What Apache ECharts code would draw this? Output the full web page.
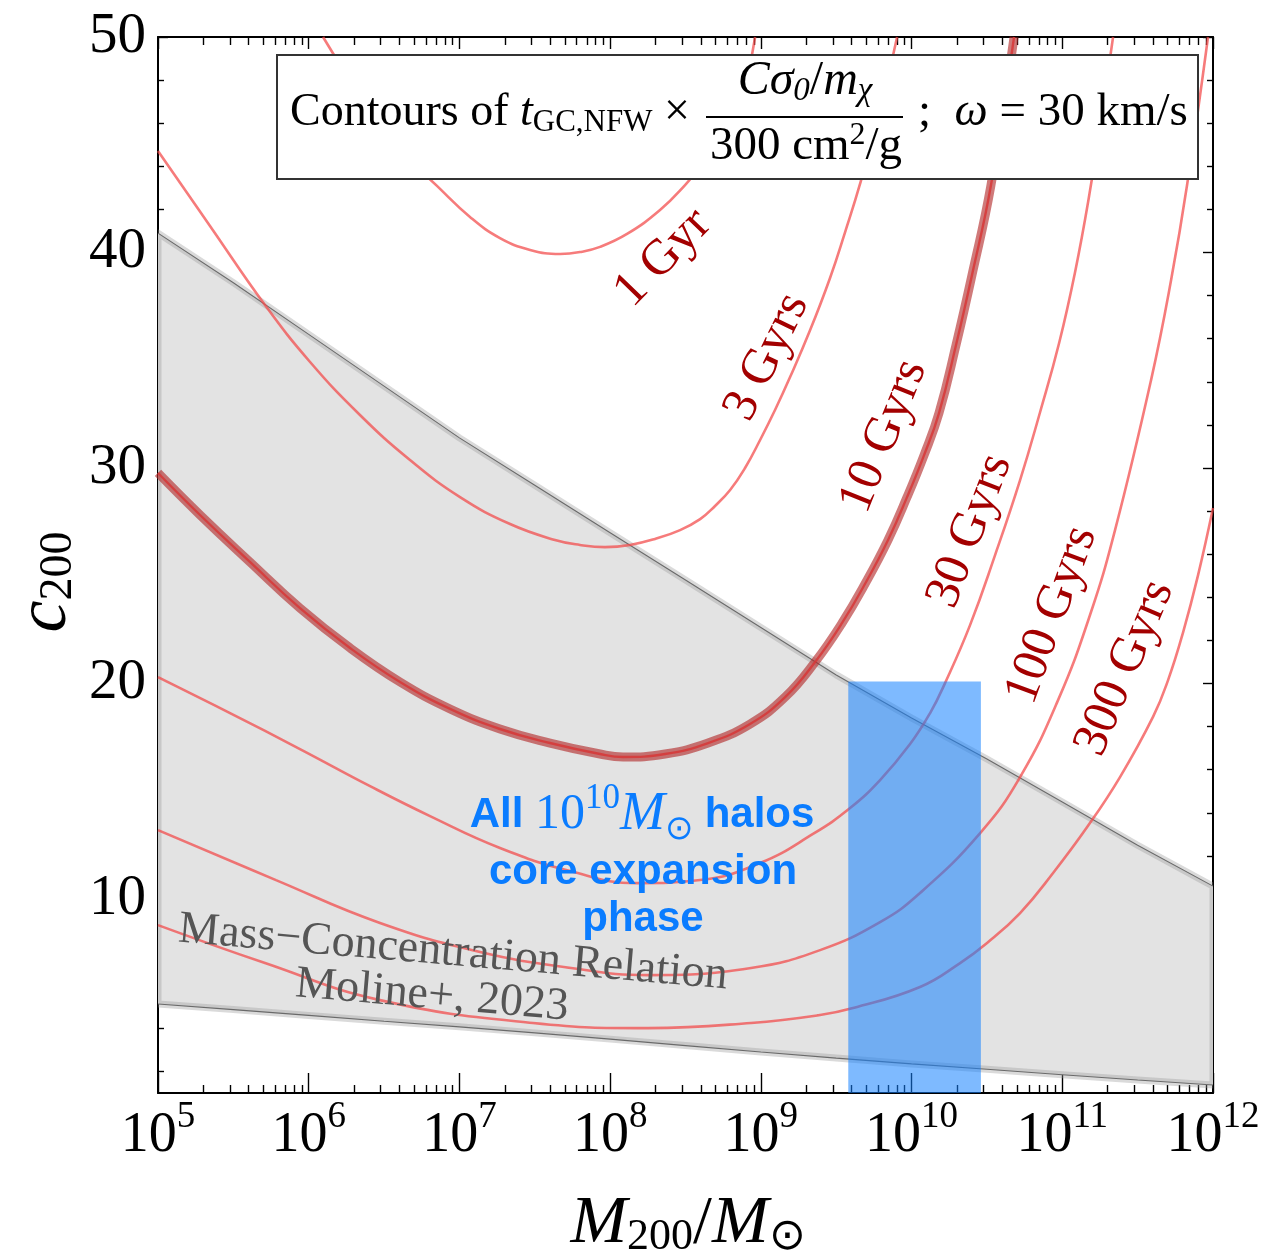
<!DOCTYPE html>
<html>
<head>
<meta charset="utf-8">
<script src="https://cdn.jsdelivr.net/npm/echarts@6/dist/echarts.min.js"></script>
<style>
  html, body { margin: 0; padding: 0; background: #ffffff; }
  #chart { width: 1269px; height: 1258px; }
</style>
</head>
<body>
<div id="chart"></div>
<script>
// Horizontal axis: log10(M200 / Msun); vertical axis: c200.
const massDecades = [5, 6, 7, 8, 9, 10, 11, 12];
const minorMultipliers = [2, 3, 4, 5, 6, 7, 8, 9];
const concTicks = [10, 20, 30, 40, 50];
const concMinorTicks = [2, 4, 6, 8, 12, 14, 16, 18, 22, 24, 26, 28, 32, 34, 36, 38, 42, 44, 46, 48];

// Mass–concentration relation band (Moline+, 2023)
const bandLogM  = [5, 5.5, 6, 6.5, 7, 7.5, 8, 8.5, 9, 9.5, 10, 10.5, 11, 11.5, 12];
const bandUpper = [40.9, 38.6, 36.2, 33.8, 31.4, 29.2, 27.0, 24.8, 22.6, 20.4, 18.4, 16.5, 14.5, 12.5, 10.6];
const bandLower = [5.13, 4.87, 4.60, 4.33, 4.07, 3.79, 3.50, 3.20, 2.90, 2.62, 2.35, 2.10, 1.85, 1.60, 1.37];

// Gravothermal-collapse time contours
const gyr1LogM = [6.095, 6.340, 6.606, 6.851, 7.070, 7.269, 7.469, 7.668, 7.800, 7.933, 8.112, 8.331, 8.497, 8.597, 8.729, 8.862, 8.962];
const gyr1C    = [50.0, 47.31, 44.76, 43.09, 41.65, 40.67, 40.12, 39.93, 40.02, 40.26, 40.86, 41.97, 43.13, 43.97, 45.31, 47.08, 50.0];

const gyr3LogM = [5.000, 5.345, 5.710, 6.009, 6.340, 6.672, 7.004, 7.336, 7.634, 7.800, 7.966, 8.132, 8.298, 8.464, 8.597, 8.696, 8.796, 8.895, 8.995, 9.094, 9.194, 9.327, 9.459, 9.559, 9.658, 9.791, 9.904];
const gyr3C    = [44.71, 41.23, 37.56, 34.92, 32.46, 30.37, 28.65, 27.40, 26.66, 26.43, 26.33, 26.43, 26.71, 27.12, 27.63, 28.24, 28.98, 30.00, 31.30, 32.69, 34.22, 36.40, 38.82, 40.95, 43.18, 46.61, 50.0];

const gyr10LogM = [5.000, 5.279, 5.610, 5.942, 6.274, 6.606, 6.938, 7.269, 7.601, 7.933, 8.086, 8.364, 8.650, 8.928, 9.161, 9.360, 9.539, 9.698, 9.844, 9.970, 10.083, 10.182, 10.295, 10.401, 10.527, 10.680];
const gyr10C    = [29.77, 27.82, 25.64, 23.50, 21.65, 20.07, 18.82, 17.89, 17.24, 16.73, 16.59, 16.73, 17.24, 18.12, 19.37, 21.00, 22.81, 24.71, 26.66, 28.65, 30.60, 32.55, 35.71, 38.96, 43.13, 50.0];

const gyr30LogM = [5.000, 5.478, 5.942, 6.407, 6.805, 7.269, 7.734, 8.178, 8.597, 8.995, 9.346, 9.592, 9.791, 9.990, 10.123, 10.222, 10.388, 10.554, 10.720, 10.853, 10.979, 11.085, 11.178, 11.257, 11.337];
const gyr30C    = [20.30, 18.63, 16.96, 15.24, 13.85, 12.37, 11.30, 10.74, 10.88, 11.67, 13.02, 14.22, 15.52, 17.19, 18.63, 20.02, 22.71, 25.96, 29.44, 32.60, 35.80, 39.10, 42.62, 46.15, 50.0];

const gyr100LogM = [5.000, 5.783, 6.473, 7.137, 7.741, 8.252, 8.935, 9.393, 9.791, 10.056, 10.455, 10.720, 10.972, 11.184, 11.350, 11.589, 11.722, 11.828, 11.967];
const gyr100C    = [13.20, 10.88, 8.89, 7.54, 6.80, 6.47, 6.80, 7.63, 8.93, 10.28, 13.06, 15.66, 19.23, 23.18, 27.12, 34.08, 38.72, 43.13, 50.0];

const gyr300LogM = [5.000, 5.710, 6.473, 7.488, 8.252, 8.935, 9.393, 9.612, 10.056, 10.322, 10.501, 10.720, 10.939, 11.165, 11.383, 11.602, 11.702, 11.802, 11.901, 12.000];
const gyr300C    = [8.79, 7.03, 5.31, 4.25, 4.01, 4.25, 4.62, 4.94, 5.92, 7.03, 7.96, 9.35, 11.21, 13.34, 15.66, 18.45, 20.16, 22.39, 25.03, 28.14];

// 10^10 Msun halo window
const haloBoxLogM = [9.58, 10.46];
const haloBoxC    = [1, 20.1];

const SERIF = 'Liberation Serif, Times New Roman, serif';
const SANS = 'Liberation Sans, Arial, sans-serif';
const RED_LABEL = '#a30000';
const SMOOTH = 0.45;

function pairs(xs, ys) { return xs.map((x, i) => [x, ys[i]]); }

const minorMassTicks = [];
massDecades.slice(0, -1).forEach(d => minorMultipliers.forEach(m => minorMassTicks.push(d + Math.log10(m))));

function contour(xs, ys) {
  return {
    type: 'line', data: pairs(xs, ys), symbol: 'none', smooth: SMOOTH, silent: true, z: 3,
    lineStyle: { color: 'rgba(242,72,72,0.72)', width: 2.6 }
  };
}

function xAxisDef(position, values, length, showLine, showLabel) {
  const ax = {
    type: 'value', min: 5, max: 12, position: position, interval: 1,
    splitLine: { show: false },
    axisLine: { show: showLine, onZero: false, lineStyle: { color: '#000', width: 2 } },
    axisTick: { show: true, inside: true, length: length, lineStyle: { color: '#000', width: 1.4 } },
    axisLabel: { show: false }
  };
  if (values) ax.axisTick.customValues = values;
  if (showLabel) {
    ax.axisLabel = {
      show: true, margin: 6,
      formatter: v => '{b|10}{s|' + v + '}',
      rich: {
        b: { fontFamily: SERIF, fontSize: 56, color: '#000' },
        s: { fontFamily: SERIF, fontSize: 37, color: '#000', padding: [0, 0, 38, 0] }
      }
    };
  }
  return ax;
}

function yAxisDef(position, values, length, showLine, showLabel) {
  const ax = {
    type: 'value', min: 1, max: 50, position: position,
    splitLine: { show: false },
    axisLine: { show: showLine, onZero: false, lineStyle: { color: '#000', width: 2 } },
    axisTick: { show: true, inside: true, length: length, customValues: values, lineStyle: { color: '#000', width: 1.4 } },
    axisLabel: { show: false }
  };
  if (showLabel) {
    ax.axisLabel = { show: true, customValues: values, margin: 12, fontFamily: SERIF, fontSize: 57, color: '#000' };
  }
  return ax;
}

const option = {
  animation: false,
  backgroundColor: '#ffffff',
  grid: { left: 158, right: 56, top: 37, bottom: 165, containLabel: false },
  xAxis: [
    xAxisDef('bottom', null, 20, true, true),
    xAxisDef('bottom', minorMassTicks, 8, false, false),
    xAxisDef('top', null, 12, true, false),
    xAxisDef('top', minorMassTicks, 8, false, false)
  ],
  yAxis: [
    yAxisDef('left', concTicks, 10, true, true),
    yAxisDef('left', concMinorTicks, 6, false, false),
    yAxisDef('right', concTicks, 10, true, false),
    yAxisDef('right', concMinorTicks, 6, false, false)
  ],
  series: [
    // shaded mass–concentration band, outlined by a soft gray rim
    { type: 'custom', silent: true, z: 1, clip: true,
      data: bandLogM.map((x, i) => [x, bandLower[i], bandUpper[i]]),
      encode: { x: 0, y: [1, 2] },
      renderItem: (params, api) => {
        if (params.dataIndex !== 0) return null;
        const top = bandLogM.map((x, i) => api.coord([x, bandUpper[i]]));
        const bottom = bandLogM.map((x, i) => api.coord([x, bandLower[i]])).reverse();
        return { type: 'polygon', shape: { points: top.concat(bottom) },
                 style: { fill: '#e3e3e3', stroke: 'rgba(150,150,150,0.35)', lineWidth: 7, lineJoin: 'round' } };
      } },
    // band edges
    { type: 'line', data: pairs(bandLogM, bandUpper), symbol: 'none', silent: true, z: 2,
      lineStyle: { color: '#6a6a6a', width: 1.1 } },
    { type: 'line', data: pairs(bandLogM, bandLower), symbol: 'none', silent: true, z: 2,
      lineStyle: { color: '#6a6a6a', width: 1.1 } },
    // contours
    contour(gyr1LogM, gyr1C),
    contour(gyr3LogM, gyr3C),
    contour(gyr30LogM, gyr30C),
    contour(gyr100LogM, gyr100C),
    contour(gyr300LogM, gyr300C),
    // 10 Gyr contour, highlighted
    { type: 'line', data: pairs(gyr10LogM, gyr10C), symbol: 'none', smooth: SMOOTH, silent: true, z: 4,
      lineStyle: { color: 'rgba(178,40,40,0.62)', width: 9 } },
    { type: 'line', data: pairs(gyr10LogM, gyr10C), symbol: 'none', smooth: SMOOTH, silent: true, z: 4,
      lineStyle: { color: 'rgba(215,55,55,0.85)', width: 2.4 } },
    // halo window
    { type: 'custom', silent: true, z: 6,
      encode: { x: [0, 1], y: [2, 3] },
      data: [[haloBoxLogM[0], haloBoxLogM[1], haloBoxC[0], haloBoxC[1]]],
      renderItem: (params, api) => {
        const p0 = api.coord([api.value(0), api.value(3)]);
        const p1 = api.coord([api.value(1), api.value(2)]);
        return { type: 'rect', shape: { x: p0[0], y: p0[1], width: p1[0] - p0[0], height: p1[1] - p0[1] },
                 style: { fill: 'rgba(20,130,255,0.55)' } };
      } }
  ],
  graphic: { elements: [
    // contour labels
    ...[
      ['1 Gyr', 663, 258, 46], ['3 Gyrs', 767, 357, 64], ['10 Gyrs', 884, 436, 68],
      ['30 Gyrs', 970, 531, 69], ['100 Gyrs', 1052, 615, 70], ['300 Gyrs', 1125, 668, 67]
    ].map(([t, x, y, a]) => ({
      type: 'text', x: x, y: y, rotation: a * Math.PI / 180, z: 20, silent: true,
      style: { text: t, fill: RED_LABEL, font: '50px ' + SERIF, align: 'center', verticalAlign: 'middle' }
    })),
    // band annotation
    { type: 'text', x: 453, y: 953, rotation: -4.9 * Math.PI / 180, z: 20, silent: true,
      style: { text: 'Mass\u2212Concentration Relation', fill: '#555555', font: '46px ' + SERIF, align: 'center', verticalAlign: 'middle' } },
    { type: 'text', x: 432, y: 996, rotation: -4.9 * Math.PI / 180, z: 20, silent: true,
      style: { text: 'Moline+, 2023', fill: '#555555', font: '46px ' + SERIF, align: 'center', verticalAlign: 'middle' } },
    // halo window annotation
    { type: 'text', x: 642, y: 815, z: 20, silent: true,
      style: {
        text: '{s|All }{n|10}{sup|10}{m|M}{sub|\u2299}{s| halos}', align: 'center', verticalAlign: 'middle',
        rich: {
          s: { font: 'bold 42px ' + SANS, fill: '#0a7cff' },
          n: { font: '50px ' + SERIF, fill: '#0a7cff' },
          sup: { font: '35px ' + SERIF, fill: '#0a7cff', padding: [0, 0, 32, 0] },
          m: { font: 'italic 54px ' + SERIF, fill: '#0a7cff' },
          sub: { font: '34px ' + SERIF, fill: '#0a7cff', padding: [30, 0, 0, 0] }
        }
      } },
    { type: 'text', x: 643, y: 872, z: 20, silent: true,
      style: { text: 'core expansion', fill: '#0a7cff', font: 'bold 42px ' + SANS, align: 'center', verticalAlign: 'middle' } },
    { type: 'text', x: 643, y: 919, z: 20, silent: true,
      style: { text: 'phase', fill: '#0a7cff', font: 'bold 42px ' + SANS, align: 'center', verticalAlign: 'middle' } },
    // legend box
    { type: 'rect', z: 30, silent: true, shape: { x: 277, y: 55, width: 921, height: 124 },
      style: { fill: '#ffffff', stroke: '#333333', lineWidth: 2 } },
    { type: 'text', x: 290, y: 113, z: 31, silent: true,
      style: {
        text: '{r|Contours of }{i|t}{sub|GC,NFW}{r| \u00d7}', align: 'left', verticalAlign: 'middle',
        rich: {
          r: { font: '46px ' + SERIF, fill: '#000' },
          i: { font: 'italic 46px ' + SERIF, fill: '#000' },
          sub: { font: '31px ' + SERIF, fill: '#000', padding: [19, 0, 0, 0] }
        }
      } },
    { type: 'text', x: 805, y: 81, z: 31, silent: true,
      style: {
        text: '{i|C\u03c3}{sub|0}{r|/}{i|m}{sub|\u03c7}', align: 'center', verticalAlign: 'middle',
        rich: {
          r: { font: '48px ' + SERIF, fill: '#000' },
          i: { font: 'italic 48px ' + SERIF, fill: '#000' },
          sub: { font: 'italic 33px ' + SERIF, fill: '#000', padding: [20, 0, 0, 0] }
        }
      } },
    { type: 'line', z: 31, silent: true, shape: { x1: 706, y1: 117, x2: 903, y2: 117 },
      style: { stroke: '#000', lineWidth: 2 } },
    { type: 'text', x: 806, y: 147, z: 31, silent: true,
      style: {
        text: '{r|300 cm}{sup|2}{r|/g}', align: 'center', verticalAlign: 'middle',
        rich: {
          r: { font: '47px ' + SERIF, fill: '#000' },
          sup: { font: '32px ' + SERIF, fill: '#000', padding: [0, 0, 22, 0] }
        }
      } },
    { type: 'text', x: 918, y: 113, z: 31, silent: true,
      style: {
        text: '{r|;  }{i|\u03c9}{r| = 30 km/s}', align: 'left', verticalAlign: 'middle',
        rich: {
          r: { font: '47px ' + SERIF, fill: '#000' },
          i: { font: 'italic 47px ' + SERIF, fill: '#000' }
        }
      } },
    // axis titles
    { type: 'text', x: 688, y: 1224, z: 31, silent: true,
      style: {
        text: '{i|M}{sub|200}{r|/}{i|M}{sub|\u2299}', align: 'center', verticalAlign: 'middle',
        rich: {
          r: { font: '68px ' + SERIF, fill: '#000' },
          i: { font: 'italic 68px ' + SERIF, fill: '#000' },
          sub: { font: '44px ' + SERIF, fill: '#000', padding: [26, 0, 0, 0] }
        }
      } },
    { type: 'text', x: 46, y: 582, rotation: Math.PI / 2, z: 31, silent: true,
      style: {
        text: '{i|c}{sub|200}', align: 'center', verticalAlign: 'middle',
        rich: {
          i: { font: 'italic 72px ' + SERIF, fill: '#000' },
          sub: { font: '46px ' + SERIF, fill: '#000', padding: [26, 0, 0, 0] }
        }
      } }
  ] }
};

const chart = echarts.init(document.getElementById('chart'), null, { renderer: 'canvas' });
chart.setOption(option);
</script>
</body>
</html>
